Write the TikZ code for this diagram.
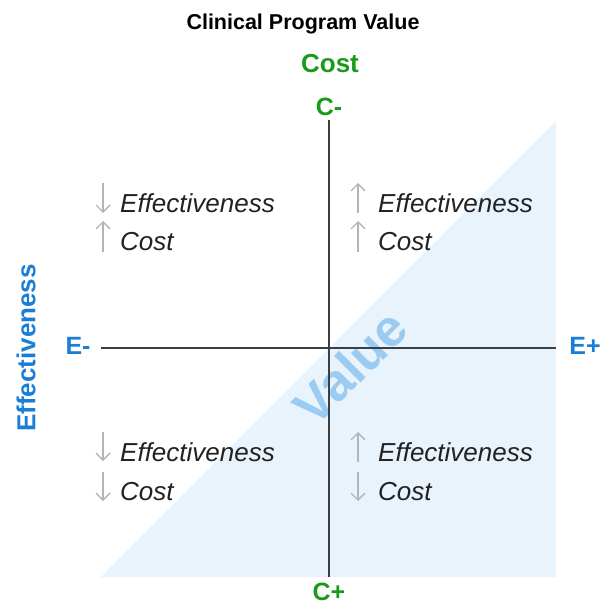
\documentclass[tikz,border=0pt]{standalone}
\usepackage{fontspec}
\setmainfont{Liberation Sans}
\usetikzlibrary{positioning,arrows.meta}

\definecolor{costgreen}{HTML}{1A9A1A}
\definecolor{effblue}{HTML}{1A7ED6}
\definecolor{valueblue}{HTML}{9CCBF1}
\definecolor{valuefill}{HTML}{E8F3FC}
\definecolor{axisgray}{HTML}{3A3F44}
\definecolor{arrowgray}{HTML}{B4B4B4}
\definecolor{quadtext}{HTML}{222222}

\begin{document}
\begin{tikzpicture}[x=1pt, y=-1pt,
    axis/.style = {draw=axisgray, line width=1.6pt},
    endlbl/.style = {font=\bfseries\fontsize{25}{30}\selectfont, inner sep=0pt},
    quad/.style = {anchor=west, inner sep=0pt, text=quadtext, font=\itshape\fontsize{26}{31}\selectfont},
    trend/.style = {draw=arrowgray, line width=1.4pt, -{Straight Barb[length=7pt, width=14pt]}}]
    \useasboundingbox (0,0) rectangle (605,604);

    % shaded value region
    \fill[valuefill] (101,577) -- (556,577) -- (556,121) -- cycle;
    \node[rotate=45, text=valueblue, font=\bfseries\fontsize{52}{60}\selectfont] (value) at (350,367) {Value};

    % axes
    \coordinate (top) at (329,120);
    \coordinate (bottom) at (329,577);
    \coordinate (left) at (101,348);
    \coordinate (right) at (556,348);
    \draw[axis] (top) -- (bottom);
    \draw[axis] (left) -- (right);

    % titles and axis ends
    \node[font=\bfseries\fontsize{21.5}{26}\selectfont] (title) at (303,24) {Clinical Program Value};
    \node[font=\bfseries\fontsize{26}{31}\selectfont, text=costgreen] (cost) at (330,64) {Cost};
    \node[rotate=90, font=\bfseries\fontsize{26}{31}\selectfont, text=effblue] (eff) at (26,348) {Effectiveness};
    \node[endlbl, text=costgreen] (cminus) at (329,107) {C-};
    \node[endlbl, text=costgreen] (cplus) at (329,592) {C+};
    \node[endlbl, text=effblue] (eminus) at (78,346) {E-};
    \node[endlbl, text=effblue] (eplus) at (585,346) {E+};

    % quadrants
    \node[quad] (tlE) at (120,203) {Effectiveness};
    \node[quad] (tlC) at (120,242) {Cost};
    \node[quad] (trE) at (378,203) {Effectiveness};
    \node[quad] (trC) at (378,242) {Cost};
    \node[quad] (blE) at (120,452) {Effectiveness};
    \node[quad] (blC) at (120,492) {Cost};
    \node[quad] (brE) at (378,452) {Effectiveness};
    \node[quad] (brC) at (378,492) {Cost};

    \draw[trend] ([xshift=-17pt, yshift=20pt]tlE.west) -- ([xshift=-17pt, yshift=-10pt]tlE.west);
    \draw[trend] ([xshift=-17pt, yshift=-10pt]tlC.west) -- ([xshift=-17pt, yshift=21pt]tlC.west);
    \draw[trend] ([xshift=-20pt, yshift=-10pt]trE.west) -- ([xshift=-20pt, yshift=20pt]trE.west);
    \draw[trend] ([xshift=-20pt, yshift=-10pt]trC.west) -- ([xshift=-20pt, yshift=21pt]trC.west);
    \draw[trend] ([xshift=-17pt, yshift=20pt]blE.west) -- ([xshift=-17pt, yshift=-9pt]blE.west);
    \draw[trend] ([xshift=-17pt, yshift=20pt]blC.west) -- ([xshift=-17pt, yshift=-9pt]blC.west);
    \draw[trend] ([xshift=-20pt, yshift=-10pt]brE.west) -- ([xshift=-20pt, yshift=20pt]brE.west);
    \draw[trend] ([xshift=-20pt, yshift=20pt]brC.west) -- ([xshift=-20pt, yshift=-9pt]brC.west);
\end{tikzpicture}
\end{document}
